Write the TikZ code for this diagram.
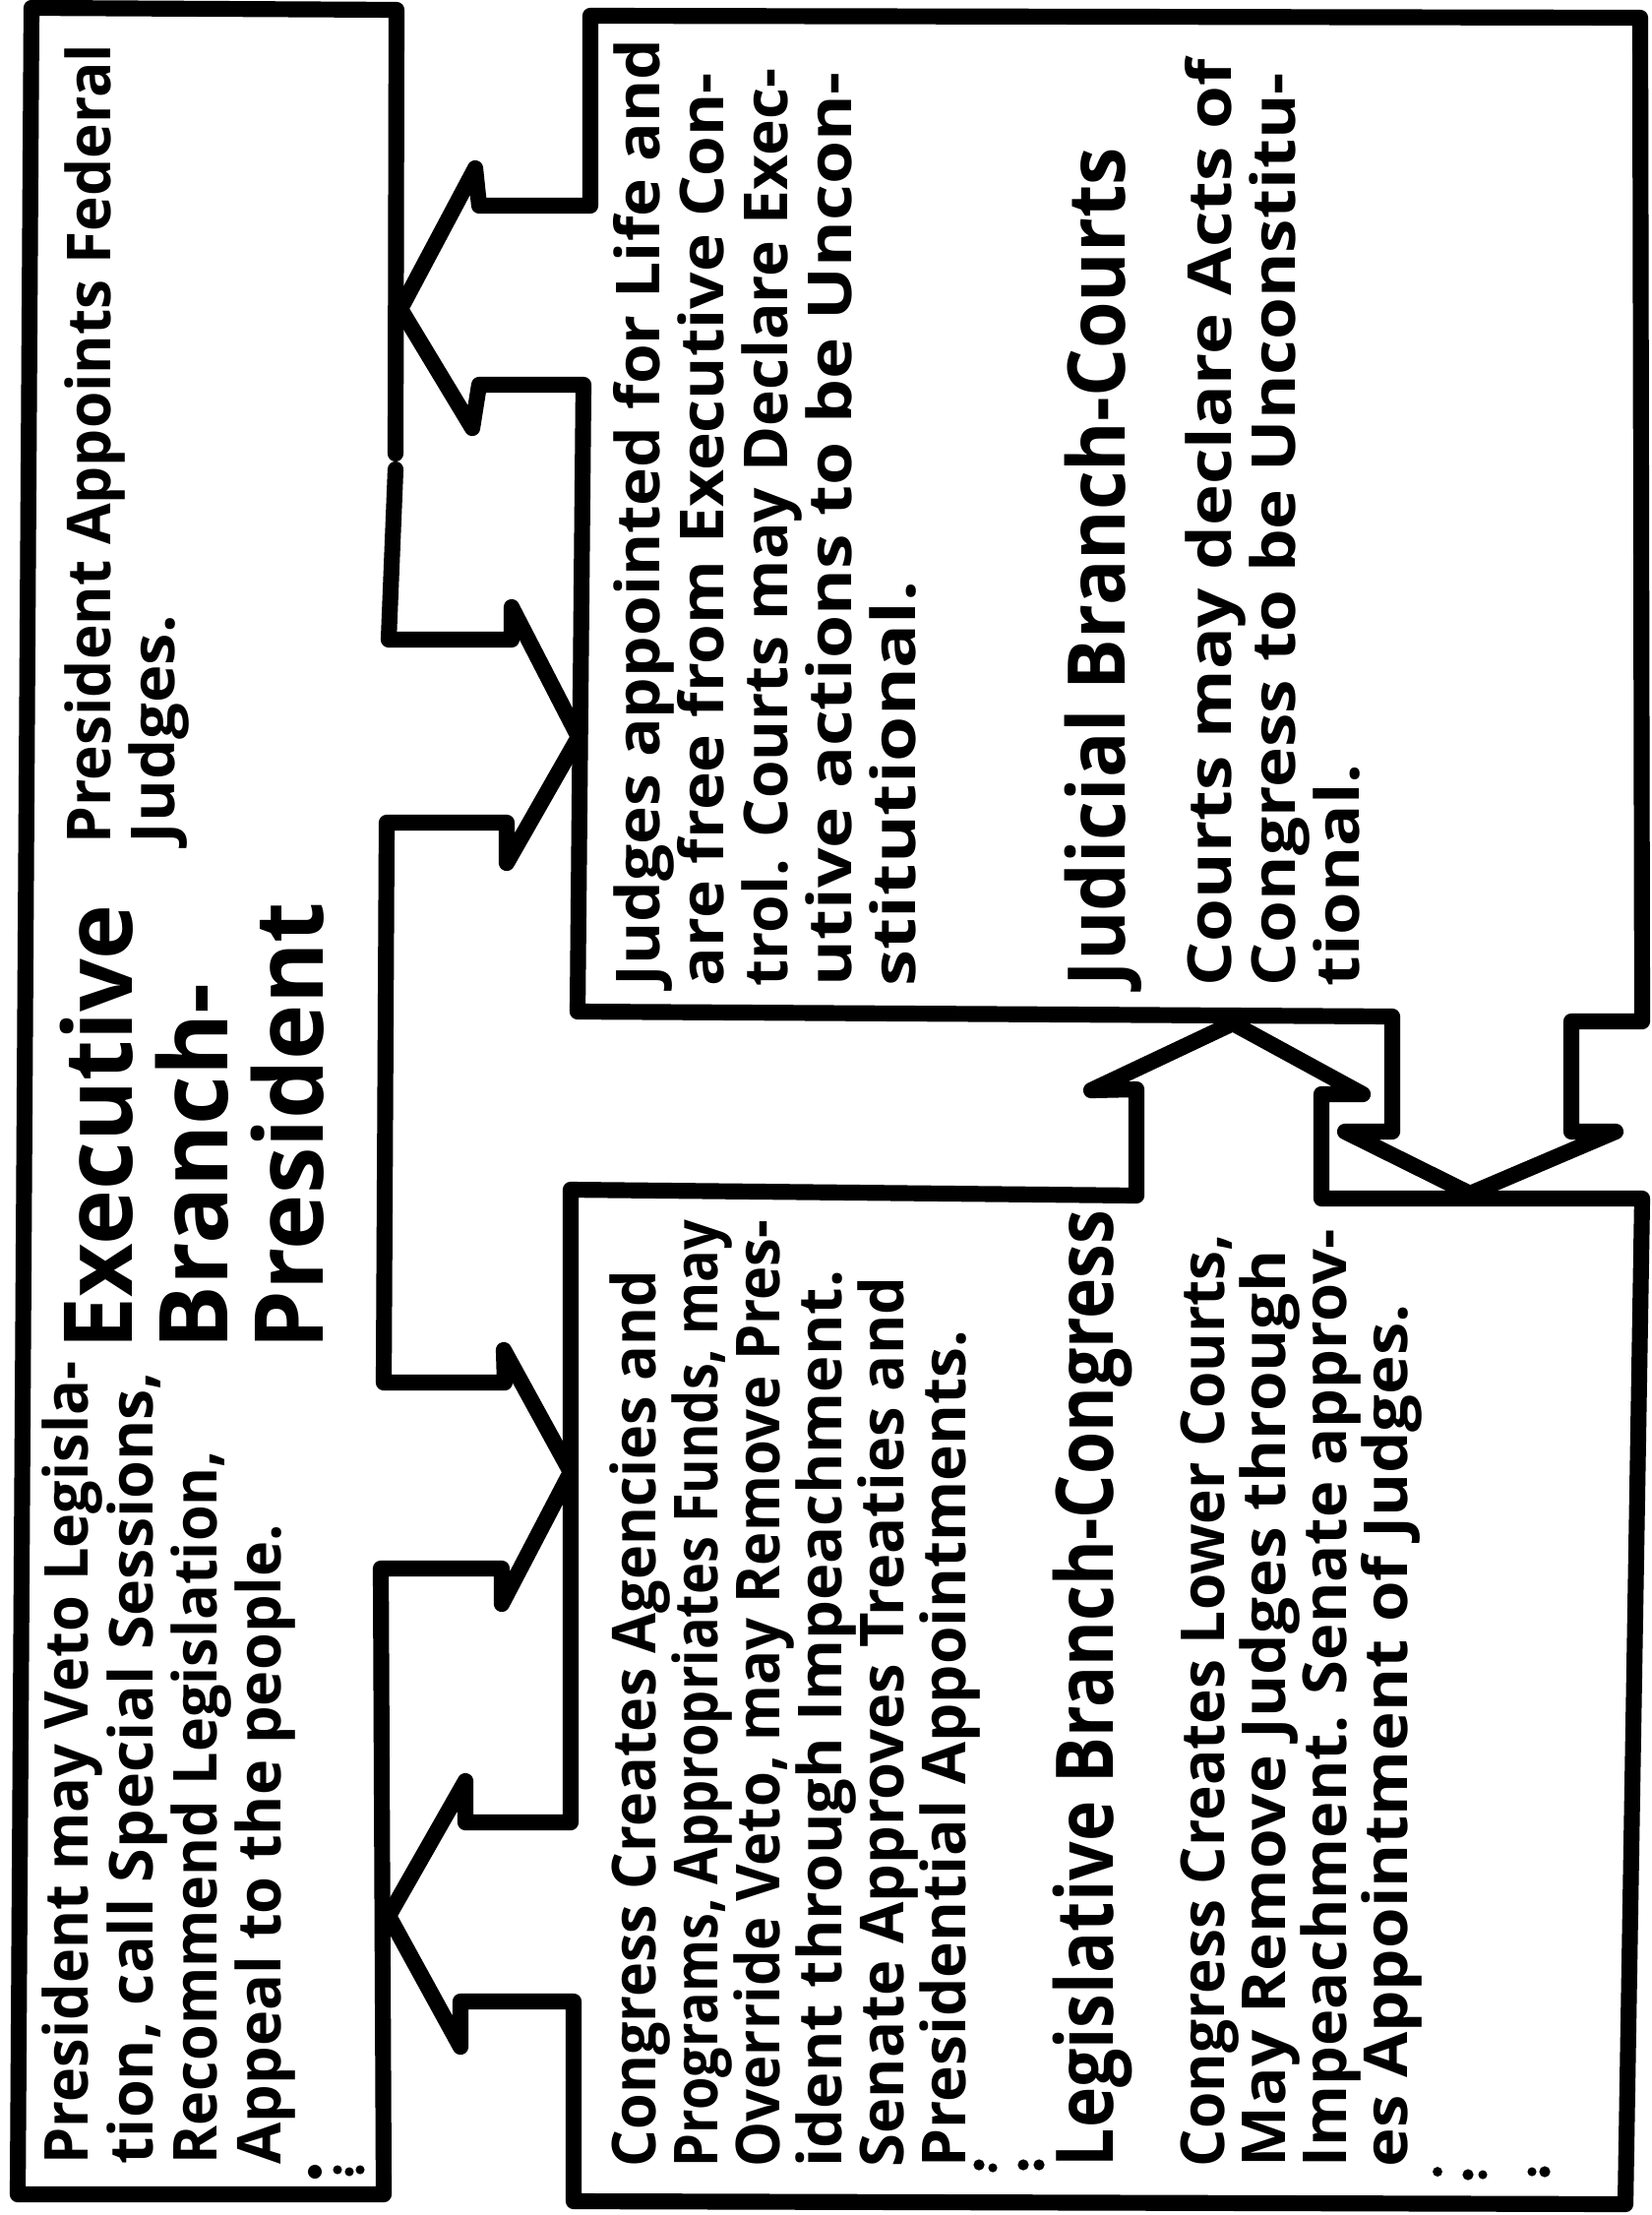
\documentclass[tikz,border=0pt]{standalone}
\usepackage{fontspec}
\setmainfont{Open Sans}
\usepackage{graphicx}
\newlength\fitlen
\newcommand\fitto[2]{\settowidth{\fitlen}{#2}\pgfmathsetmacro\fitr{#1*0.284528/\fitlen}\scalebox{\fitr}[1]{#2}}
\begin{document}
\begin{tikzpicture}[x=0.01cm,y=-0.01cm,
  outline/.style={line width=4.6pt, line join=round, line cap=round},
  txt/.style={rotate=90, anchor=base west, inner sep=0pt, font=\bfseries\fontsize{17.5}{20}\selectfont},
  ttl/.style={txt, font=\bfseries\fontsize{23}{26}\selectfont},
  xttl/.style={txt, font=\bfseries\fontsize{27.5}{30}\selectfont},
  speck/.style={fill=black}]
\useasboundingbox (0,0) rectangle (1678,2251);
\fill[white] (0,0) rectangle (1678,2251);

% Executive box with its two outgoing arrows
\draw[outline] (402,477) -- (395,650) -- (520,650) -- (520,617) -- (588,749) -- (515,877) -- (515,836) -- (393,836)
  -- (390,1405) -- (513,1405) -- (512,1372) -- (580,1496) -- (510,1630) -- (510,1594) -- (387,1594)
  -- (390,2230) -- (18,2230) -- (32,8) -- (403,10) -- (402,461);

% Judicial box with its arrows
\draw[outline] (600,16) -- (1667,18) -- (1669,1038) -- (1597,1038) -- (1597,1150) -- (1642,1150) -- (1494,1213)
  -- (1367,1150) -- (1415,1150) -- (1415,1033) -- (587,1028) -- (593,391) -- (487,391) -- (480,435)
  -- (407,314) -- (483,171) -- (487,209) -- (600,209) -- cycle;

% Legislative box with its arrows
\draw[outline] (580,1209) -- (1155,1215) -- (1155,1107) -- (1109,1108) -- (1253,1040) -- (1385,1112)
  -- (1343,1112) -- (1343,1218) -- (1669,1218) -- (1652,2240) -- (583,2237) -- (583,2034) -- (468,2034)
  -- (468,2080) -- (395,1947) -- (473,1810) -- (473,1852) -- (580,1852) -- cycle;

% dotted marks
\fill[speck] (320,2207) circle[radius=2pt] (343,2205) circle[radius=1.3pt] (355,2207) circle[radius=1.3pt] (366,2205) circle[radius=1.3pt];
\fill[speck] (995,2200) circle[radius=1.6pt] (1009,2203) circle[radius=1.3pt] (1040,2200) circle[radius=1.6pt] (1056,2200) circle[radius=1.6pt];
\fill[speck] (1461,2207) circle[radius=1.4pt] (1492,2210) circle[radius=1.6pt] (1507,2210) circle[radius=1.3pt] (1557,2207) circle[radius=1.3pt] (1570,2207) circle[radius=1.6pt];

% Executive texts
\node[txt] (e1) at (112,858) {\fitto{812}{President Appoints Federal}};
\node[txt] (e2) at (177,858) {\fitto{232}{Judges.}};
\node[xttl] (et1) at (134,1372) {\fitto{452}{Executive}};
\node[xttl] (et2) at (231,1372) {\fitto{372}{Branch-}};
\node[xttl] (et3) at (328,1372) {\fitto{454}{President}};
\node[txt] (e3) at (90,2200) {\fitto{815}{President may Veto Legisla-}};
\node[txt] (e4) at (155,2200) {\fitto{805}{tion, call Special Sessions,}};
\node[txt] (e5) at (220,2200) {\fitto{725}{Recommend Legislation,}};
\node[txt] (e6) at (285,2200) {\fitto{650}{Appeal to the people.}};

% Judicial texts
\node[txt] (j1) at (670,1003) {\fitto{962}{Judges appointed for Life and}};
\node[txt] (j2) at (735,1003) {\fitto{928}{are free from Executive Con-}};
\node[txt] (j3) at (800,1003) {\fitto{932}{trol. Courts may Declare Exec-}};
\node[txt] (j4) at (865,1003) {\fitto{928}{utive actions to be Uncon-}};
\node[txt] (j5) at (930,1003) {\fitto{412}{stitutional.}};
\node[ttl] (jt) at (1143,1003) {\fitto{852}{Judicial Branch-Courts}};
\node[txt] (j6) at (1251,1003) {\fitto{942}{Courts may declare Acts of}};
\node[txt] (j7) at (1316,1003) {\fitto{928}{Congress to be Unconstitu-}};
\node[txt] (j8) at (1381,1003) {\fitto{226}{tional.}};

% Legislative texts
\node[txt] (l1) at (666,2203) {\fitto{911}{Congress Creates Agencies and}};
\node[txt] (l2) at (729,2203) {\fitto{962}{Programs, Appropriates Funds, may}};
\node[txt] (l3) at (792,2203) {\fitto{962}{Override Veto, may Remove Pres-}};
\node[txt] (l4) at (855,2203) {\fitto{911}{ident through Impeachment.}};
\node[txt] (l5) at (918,2203) {\fitto{904}{Senate Approves Treaties and}};
\node[txt] (l6) at (981,2203) {\fitto{850}{Presidential Appointments.}};
\node[ttl] (lt) at (1131,2203) {\fitto{972}{Legislative Branch-Congress}};
\node[txt] (l7) at (1244,2203) {\fitto{948}{Congress Creates Lower Courts,}};
\node[txt] (l8) at (1306,2203) {\fitto{931}{May Remove Judges through}};
\node[txt] (l9) at (1368,2203) {\fitto{952}{Impeachment. Senate approv-}};
\node[txt] (l10) at (1430,2203) {\fitto{877}{es Appointment of Judges.}};
\end{tikzpicture}
\end{document}
